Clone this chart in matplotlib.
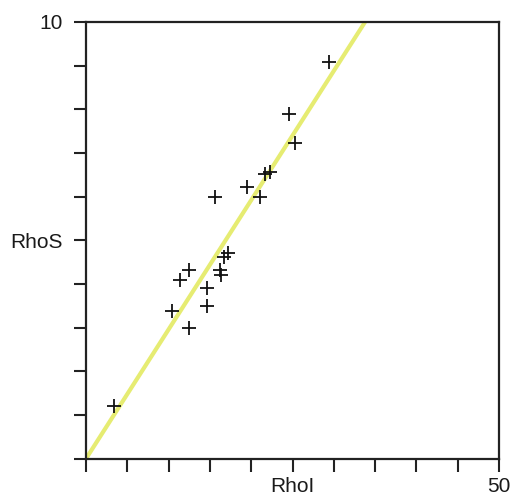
import matplotlib
matplotlib.use("Agg")
import matplotlib.pyplot as plt
import numpy as np

plt.rcParams['font.family'] = ['Liberation Sans', 'DejaVu Sans']

# Observed pairs
rho_i = [3.4, 10.4, 11.4, 12.5, 12.5, 14.7, 14.7, 15.6, 16.2, 16.4, 16.7,
         17.2, 19.5, 21.1, 21.7, 22.3, 24.6, 25.3, 29.4]
rho_s = [1.21, 3.38, 4.09, 4.32, 3.0, 3.9, 3.5, 6.0, 4.32, 4.2, 4.61,
         4.72, 6.23, 6.0, 6.52, 6.57, 7.89, 7.22, 9.09]

# Fitted line through the origin
fit_slope = 0.296

x_ticks = [0, 5, 10, 15, 20, 25, 30, 35, 40, 45, 50]
x_ticklabels = ['', '', '', '', '', 'RhoI', '', '', '', '', '50']
y_ticks = [0, 1, 2, 3, 4, 5, 6, 7, 8, 9, 10]
y_ticklabels = ['', '', '', '', '', 'RhoS', '', '', '', '', '10']

fig = plt.figure(figsize=(5.14, 5.01), dpi=100)
ax = fig.add_axes([86 / 514, 42.3 / 501, 413 / 514, 436.7 / 501])

ax.set_xlim(0, 50)
ax.set_ylim(0, 10)

xs = np.array([0, 10 / fit_slope])
ax.plot(xs, fit_slope * xs, color='#e6ec72', lw=3.0, zorder=2,
        solid_capstyle='butt', clip_on=True)

ax.plot(rho_i, rho_s, linestyle='none', marker='+', markersize=10,
        markeredgewidth=1.3, color='#111111', zorder=3)

ax.set_xticks(x_ticks)
ax.set_xticklabels(x_ticklabels)
ax.set_yticks(y_ticks)
ax.set_yticklabels(y_ticklabels)
ax.tick_params(axis='both', direction='out', length=9, width=1.5,
               color='#222222', labelsize=15, labelcolor='#1a1a1a')
ax.tick_params(axis='x', pad=4)
ax.tick_params(axis='y', pad=8)

for side in ['left', 'right', 'top', 'bottom']:
    ax.spines[side].set_linewidth(1.6)
    ax.spines[side].set_color('#222222')

fig.savefig('out.png', dpi=100)
